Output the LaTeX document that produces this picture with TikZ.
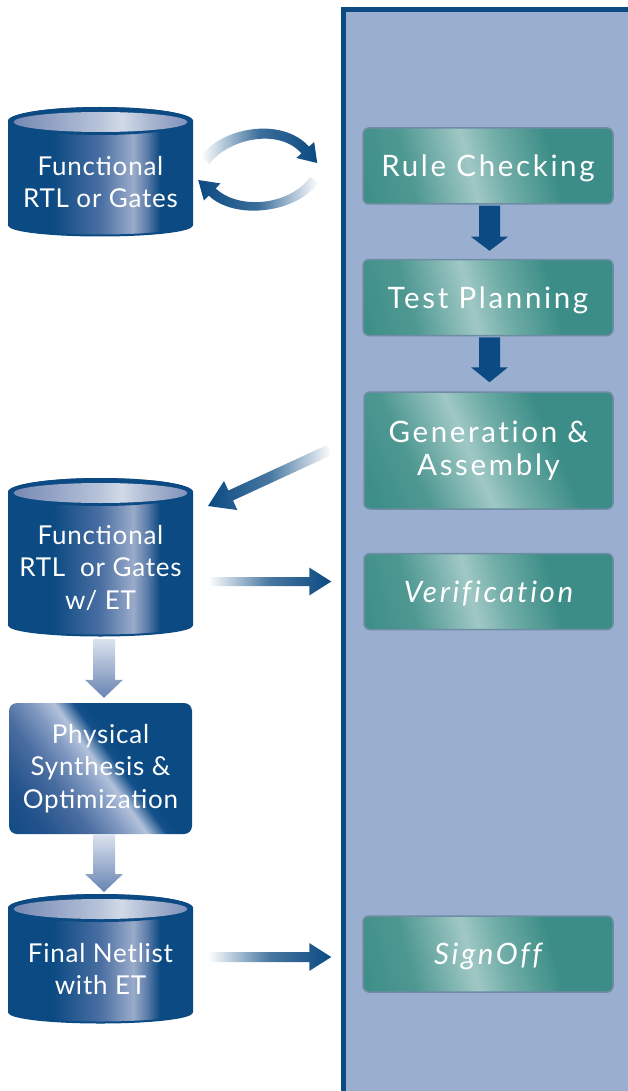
\documentclass[tikz,border=0pt]{standalone}
\usepackage{fontspec}
\setmainfont[LetterSpace=3]{Lato}
\newfontfamily\gfont[LetterSpace=9,Ligatures=NoCommon]{Lato}
\usetikzlibrary{calc}
\definecolor{dblue}{HTML}{0B4A82}
\definecolor{panelfill}{HTML}{9AAFCF}
\definecolor{gborder}{HTML}{6E8CA4}
\definecolor{cylmid}{HTML}{4A6FA3}
\definecolor{cyllight}{HTML}{9AABCA}
\definecolor{cylmidb}{HTML}{5D7DAA}
\definecolor{tA}{HTML}{7689B3}
\definecolor{tB}{HTML}{B8C4DA}
\definecolor{tC}{HTML}{D2DAE8}
\definecolor{tD}{HTML}{AAB8D1}
\definecolor{tE}{HTML}{8292BB}
\definecolor{pA}{HTML}{23528C}
\definecolor{pB}{HTML}{4A6DA0}
\definecolor{pC}{HTML}{7F98C0}
\definecolor{pD}{HTML}{B3C2DB}
\definecolor{pE}{HTML}{14508A}
\definecolor{gA}{HTML}{3D8E88}
\definecolor{gB}{HTML}{4F9892}
\definecolor{gC}{HTML}{A0C8C5}
\definecolor{gD}{HTML}{72AEA8}
\definecolor{gE}{HTML}{3C8D87}
\definecolor{ltop}{HTML}{DCE3EE}
\definecolor{lbot}{HTML}{6783B2}
\pgfdeclarehorizontalshading{cylbodysh}{100bp}{color(0bp)=(dblue); color(37bp)=(dblue); color(50bp)=(cylmid); color(58.8bp)=(cyllight); color(62.5bp)=(cylmidb); color(66bp)=(dblue); color(100bp)=(dblue)}
\pgfdeclarehorizontalshading{topsh}{100bp}{color(0bp)=(tA); color(25bp)=(tA); color(50bp)=(tB); color(56bp)=(tC); color(64bp)=(tD); color(75bp)=(tE); color(100bp)=(tE)}
\pgfdeclarehorizontalshading{physsh}{100bp}{color(0bp)=(dblue); color(12bp)=(dblue); color(25bp)=(pA); color(36bp)=(pB); color(44bp)=(pC); color(50bp)=(pD); color(55bp)=(pE); color(58bp)=(dblue); color(100bp)=(dblue)}
\pgfdeclarehorizontalshading{tealsh}{100bp}{color(0bp)=(gA); color(19.6bp)=(gA); color(31.7bp)=(gB); color(45.7bp)=(gC); color(53bp)=(gD); color(65bp)=(gE); color(100bp)=(gE)}
\pgfdeclarelayer{back}
\pgfdeclarelayer{bg}
\pgfsetlayers{back,bg,main}
\newcommand\dbcyl[3]{%
  \begin{scope}[shift={(#1.center)}]
    \shade[shading=cylbodysh] (-92.5,#2) -- (-92.5,-#3) arc[start angle=180,end angle=360,x radius=92.5,y radius=11] -- (92.5,#2) arc[start angle=0,end angle=180,x radius=92.5,y radius=14] -- cycle;
    \draw[dblue,line width=2] (-91.5,-#3) arc[start angle=180,end angle=360,x radius=91.5,y radius=10.5];
    \fill[dblue] (0,#2) ellipse[x radius=92.5,y radius=14];
    \shade[shading=topsh] (0,#2-1) ellipse[x radius=87,y radius=10];
  \end{scope}}
\newcommand\blockarrow[6]{%
  \coordinate (bab) at ($(#2)!#5!(#1)$);
  \path[#6] ($(#1)!#3!90:(#2)$) -- ($(bab)!#3!90:(#2)$) -- ($(bab)!#4!90:(#2)$) -- (#2)
    -- ($(bab)!#4!-90:(#2)$) -- ($(bab)!#3!-90:(#2)$) -- ($(#1)!#3!-90:(#2)$) -- cycle;}
\tikzset{
  gbox/.style={shade, shading=tealsh, shading angle=14.4, draw=gborder, line width=1.5,
    rounded corners=6, minimum width=250, minimum height=76, inner sep=0, text=white,
    align=center, font=\gfont\fontsize{29.5}{33}\selectfont},
  gone/.style={gbox, text depth=0},
  dbnode/.style={text=white, align=center, inner sep=0, minimum width=185,
    font=\fontsize{26}{32.5}\selectfont},
  physnode/.style={shade, shading=physsh, shading angle=35.6, rounded corners=8,
    minimum width=183, minimum height=131, inner sep=0, text=white, align=center,
    font=\fontsize{26}{32.5}\selectfont},
  darkarrow/.style={fill=dblue},
  lightarrow/.style={top color=ltop, bottom color=lbot},
  hfadearrow/.style={left color=white, right color=dblue, middle color=dblue!75!white},
}
\begin{document}
\begin{tikzpicture}[x=1pt,y=1pt]
\useasboundingbox (0,0) rectangle (628,-1091);
\begin{pgfonlayer}{back}
  \fill[panelfill] (343.5,-9.5) rectangle (628,-1091);
  \draw[dblue,line width=5.5] (343.5,-1095) -- (343.5,-9.5) -- (632,-9.5);
\end{pgfonlayer}

% process boxes in the panel
\node[gone] (rule) at (488,-166) {Rule Checking};
\node[gone] (test) at (488,-297.5) {Test Planning};
\node[gbox, minimum width=249, minimum height=117, shading angle=24] (gen) at (488.5,-450.5) {Generation \&\\Assembly};
\node[gone, minimum width=249, font=\gfont\itshape\fontsize{29.5}{33}\selectfont] (ver) at (488.5,-591.5) {Verification};
\node[gone, font=\gfont\itshape\fontsize{29.5}{33}\selectfont] (sign) at (488,-954) {SignOff};

% left column
\node[dbnode] (db1) at (100.5,-182) {Functional\\RTL or Gates};
\node[dbnode] (db2) at (100.5,-568) {Functional\\RTL~ or Gates\\w/ ET};
\node[physnode] (phys) at (100.5,-768.5) {Physical\\Synthesis \&\\Optimization};
\node[dbnode] (db3) at (100.5,-969) {Final Netlist\\with ET};

\begin{pgfonlayer}{bg}
  \dbcyl{db1}{61}{43}
  \dbcyl{db2}{76}{57}
  \dbcyl{db3}{61}{43}
\end{pgfonlayer}

% dark arrows between process boxes
\coordinate (a1s) at ($(rule.south)+(1.5,-1)$);
\coordinate (a1e) at ($(test.north)+(1.5,8)$);
\blockarrow{a1s}{a1e}{10.5pt}{18.5pt}{14pt}{darkarrow}
\coordinate (a2s) at ($(test.south)+(1.5,-1)$);
\coordinate (a2e) at ($(gen.north)+(1,9)$);
\blockarrow{a2s}{a2e}{10.5pt}{18.5pt}{15pt}{darkarrow}

% light arrows in left column
\coordinate (l1s) at ($(db2.center)+(3.5,-71)$);
\coordinate (l1e) at ($(phys.north)+(3.5,5)$);
\blockarrow{l1s}{l1e}{11pt}{19pt}{18pt}{lightarrow}
\coordinate (l2s) at ($(phys.south)+(3.5,0)$);
\coordinate (l2e) at ($(db3.center)+(3.5,77)$);
\blockarrow{l2s}{l2e}{11pt}{19pt}{18pt}{lightarrow}

% horizontal arrows to the panel
\coordinate (h1s) at ($(db2.center)+(107.5,-13.5)$);
\coordinate (h1e) at ($(ver.west)+(-32,10)$);
\blockarrow{h1s}{h1e}{4.5pt}{14pt}{22pt}{hfadearrow}
\coordinate (h2s) at ($(db3.center)+(107.5,12)$);
\coordinate (h2e) at ($(sign.west)+(-31,-3)$);
\blockarrow{h2s}{h2e}{5pt}{14pt}{22pt}{hfadearrow}

% diagonal arrow back from generation
\coordinate (d1s) at ($(gen.west)+(-34,0.5)$);
\coordinate (d1e) at ($(db2.center)+(107.5,62)$);
\blockarrow{d1s}{d1e}{5.5pt}{16pt}{25pt}{left color=dblue, right color=white, middle color=dblue!75!white}

% curved loop arrows at db1
\begin{scope}[shift={(db1.east)}]
  \shade[left color=white, right color=dblue, middle color=dblue!80!white]
    (8,26) .. controls (28,54) and (88,66) .. (115.8,35.4) -- (121,40) -- (124,19)
    -- (103,24) -- (108.2,28.6) .. controls (86,54) and (36,44) .. (16,18) -- cycle;
  \shade[left color=dblue, right color=white, middle color=dblue!80!white]
    (125,-1) .. controls (102,-32) and (41,-38) .. (15.5,-13.6) -- (10.7,-18.6) -- (5,2)
    -- (27.3,-1.4) -- (22.5,-6.4) .. controls (45,-28) and (96,-24) .. (117,5) -- cycle;
\end{scope}
\end{tikzpicture}
\end{document}
